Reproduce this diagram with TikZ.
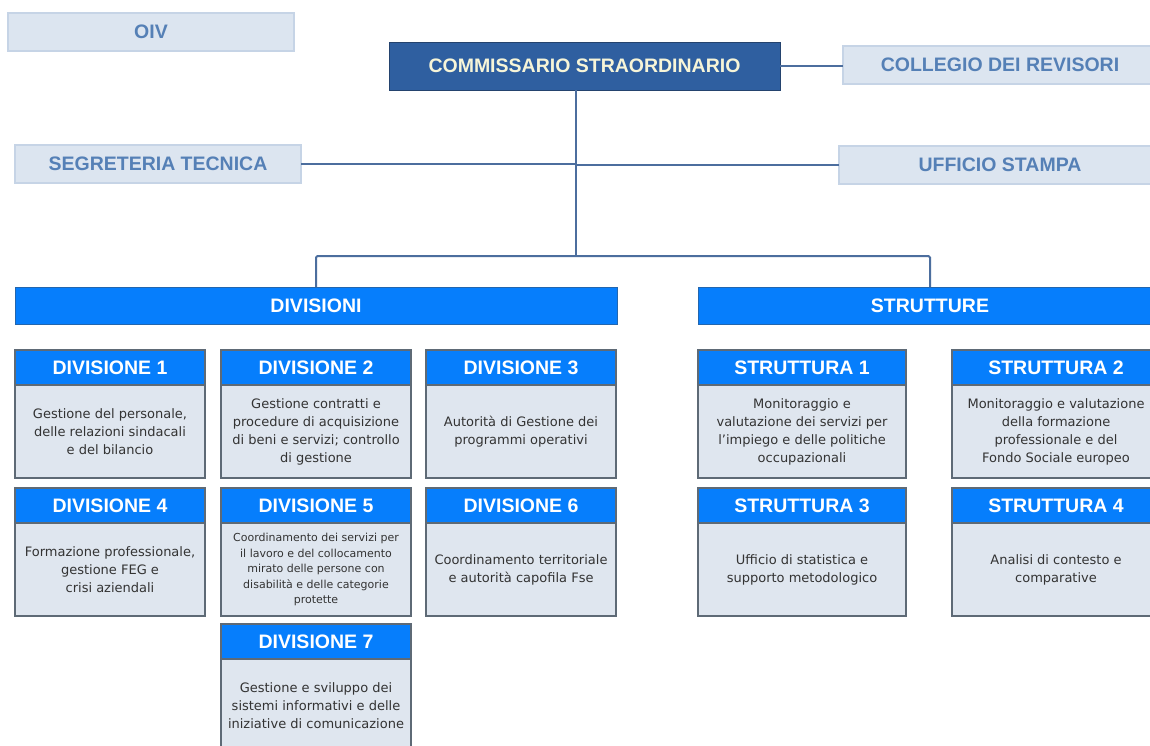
\documentclass[tikz,border=0pt]{standalone}
\usepackage{fontspec}
\setmainfont{Liberation Sans}
\newfontfamily\bodyff{DejaVu Sans}
\definecolor{topfill}{HTML}{DCE5F0}
\definecolor{topborder}{HTML}{C6D4E6}
\definecolor{toptext}{HTML}{5580B6}
\definecolor{commblue}{HTML}{2F5FA0}
\definecolor{commborder}{HTML}{24436E}
\definecolor{commtext}{HTML}{F7F5D8}
\definecolor{hdrblue}{HTML}{067EFC}
\definecolor{hdrborder}{HTML}{2366AE}
\definecolor{bodyfill}{HTML}{DFE6EF}
\definecolor{bodyborder}{HTML}{5E6A76}
\definecolor{bodytext}{HTML}{333333}
\definecolor{linecol}{HTML}{4C6E9E}
\newcommand\headtxt{\fontsize{19.5}{22}\selectfont\bfseries}
\newcommand\bodytxt{\bodyff\fontsize{13}{18}\selectfont}
\newcommand\smalltxt{\bodyff\fontsize{11}{15.5}\selectfont}
\begin{document}
\begin{tikzpicture}[x=1pt,y=-1pt,
  every node/.style={inner sep=0pt, outer sep=0pt, anchor=north west},
  topbox/.style={fill=topfill, draw=topborder, line width=1.2pt, text=toptext, font=\headtxt, minimum height=38, minimum width=286},
  commbox/.style={fill=commblue, draw=commborder, line width=1pt, text=commtext, font=\headtxt, minimum height=48, minimum width=391},
  barbox/.style={fill=hdrblue, draw=hdrborder, line width=1pt, text=white, font=\headtxt, minimum height=37},
  hdrbox/.style={fill=hdrblue, draw=bodyborder, line width=1.3pt, text=white, font=\headtxt, minimum height=35},
  bodybox/.style={fill=bodyfill, draw=bodyborder, line width=1.3pt, text=bodytext, font=\bodytxt, align=center, minimum height=93},
  conn/.style={draw=linecol, line width=2pt, rounded corners=1.5pt}]
\useasboundingbox (0,0) rectangle (1150,745);
\clip (0,0) rectangle (1150,745);
\fill[white] (0,0) rectangle (1150,745);

% top level
\node[topbox] (oiv) at (8,13) {OIV};
\node[commbox] (comm) at (389,42) {COMMISSARIO STRAORDINARIO};
\node[topbox, minimum width=314] (coll) at (843,46) {COLLEGIO DEI REVISORI};
\node[topbox] (segr) at (15,145) {SEGRETERIA TECNICA};
\node[topbox, minimum width=322] (uff) at (839,146) {UFFICIO STAMPA};

% bars
\node[barbox, minimum width=602] (divbar) at (15,287) {DIVISIONI};
\node[barbox, minimum width=464] (strbar) at (698,287) {STRUTTURE};

\coordinate (trunk) at (576,256);

% connectors
\draw[conn] (comm.east) -- (comm.east -| coll.west);
\draw[conn] (trunk |- comm.south) -- (trunk);
\draw[conn] (segr.east) -- (segr.east -| trunk);
\draw[conn] (uff.west) -- (uff.west -| trunk);
\draw[conn] (divbar.north) |- (trunk) -| (strbar.north);

% divisions
\node[hdrbox, minimum width=190] (d1h) at (15,350) {DIVISIONE 1};
\node[bodybox, minimum width=190] (d1b) at (d1h.south west) {Gestione del personale,\\delle relazioni sindacali\\e del bilancio};
\node[hdrbox, minimum width=190] (d2h) at (221,350) {DIVISIONE 2};
\node[bodybox, minimum width=190] (d2b) at (d2h.south west) {Gestione contratti e\\procedure di acquisizione\\di beni e servizi; controllo\\di gestione};
\node[hdrbox, minimum width=190] (d3h) at (426,350) {DIVISIONE 3};
\node[bodybox, minimum width=190] (d3b) at (d3h.south west) {Autorità di Gestione dei\\programmi operativi};

\node[hdrbox, minimum width=190] (d4h) at (15,488) {DIVISIONE 4};
\node[bodybox, minimum width=190] (d4b) at (d4h.south west) {Formazione professionale,\\gestione FEG e\\crisi aziendali};
\node[hdrbox, minimum width=190] (d5h) at (221,488) {DIVISIONE 5};
\node[bodybox, minimum width=190, font=\smalltxt] (d5b) at (d5h.south west) {Coordinamento dei servizi per\\il lavoro e del collocamento\\mirato delle persone con\\disabilità e delle categorie\\protette};
\node[hdrbox, minimum width=190] (d6h) at (426,488) {DIVISIONE 6};
\node[bodybox, minimum width=190] (d6b) at (d6h.south west) {Coordinamento territoriale\\e autorità capofila Fse};

\node[hdrbox, minimum width=190] (d7h) at (221,624) {DIVISIONE 7};
\node[bodybox, minimum width=190] (d7b) at (d7h.south west) {Gestione e sviluppo dei\\sistemi informativi e delle\\iniziative di comunicazione};

% strutture
\node[hdrbox, minimum width=208] (s1h) at (698,350) {STRUTTURA 1};
\node[bodybox, minimum width=208] (s1b) at (s1h.south west) {Monitoraggio e\\valutazione dei servizi per\\l’impiego e delle politiche\\occupazionali};
\node[hdrbox, minimum width=208] (s2h) at (952,350) {STRUTTURA 2};
\node[bodybox, minimum width=208] (s2b) at (s2h.south west) {Monitoraggio e valutazione\\della formazione\\professionale e del\\Fondo Sociale europeo};
\node[hdrbox, minimum width=208] (s3h) at (698,488) {STRUTTURA 3};
\node[bodybox, minimum width=208] (s3b) at (s3h.south west) {Ufficio di statistica e\\supporto metodologico};
\node[hdrbox, minimum width=208] (s4h) at (952,488) {STRUTTURA 4};
\node[bodybox, minimum width=208] (s4b) at (s4h.south west) {Analisi di contesto e\\comparative};
\end{tikzpicture}
\end{document}
